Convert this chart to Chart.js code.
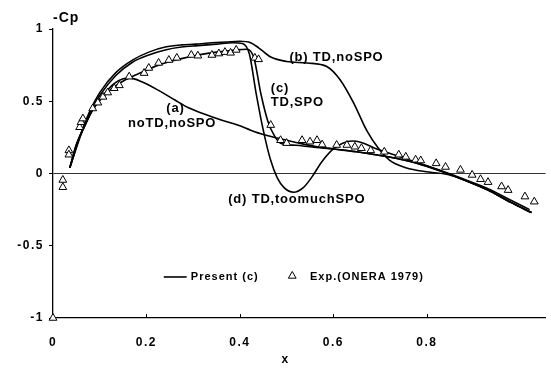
<!DOCTYPE html>
<html>
<head>
<meta charset="utf-8">
<script src="https://cdn.jsdelivr.net/npm/chart.js@4/dist/chart.umd.min.js"></script>
<style>
  html, body { margin: 0; padding: 0; background: #fff; }
  #wrap { width: 551px; height: 368px; }
</style>
</head>
<body>
<div id="wrap"><canvas id="graficaCp" width="551" height="368"></canvas></div>
<script>
// TICKS
const xTicks = [0, 0.2, 0.4, 0.6, 0.8];
const yTicks = [-1, -0.5, 0, 0.5, 1];

// EXPERIMENTO (ONERA 1979)
const expX = [0, 0.021, 0.021, 0.034, 0.034, 0.057, 0.06, 0.064, 0.085, 0.096, 0.107, 0.117, 0.131, 0.142,
  0.163, 0.195, 0.205, 0.226, 0.248, 0.265, 0.296, 0.31, 0.34, 0.355, 0.368, 0.38, 0.392, 0.432, 0.44,
  0.466, 0.487, 0.5, 0.533, 0.55, 0.565, 0.576, 0.607, 0.629, 0.646, 0.66, 0.68, 0.709, 0.74, 0.755,
  0.776, 0.787, 0.82, 0.84, 0.872, 0.897, 0.915, 0.931, 0.96, 0.974, 1.01, 1.03];
const expY = [-1, -0.045, -0.095, 0.16, 0.13, 0.32, 0.355, 0.38, 0.45, 0.49, 0.53, 0.56, 0.59, 0.61,
  0.67, 0.695, 0.73, 0.765, 0.785, 0.8, 0.82, 0.815, 0.82, 0.83, 0.84, 0.835, 0.855, 0.8, 0.79,
  0.335, 0.23, 0.21, 0.23, 0.22, 0.23, 0.2, 0.197, 0.197, 0.185, 0.175, 0.16, 0.15, 0.13, 0.115,
  0.095, 0.09, 0.07, 0.045, 0.025, -0.01, -0.04, -0.06, -0.09, -0.115, -0.16, -0.195];

// (a) noTD,noSPO
const curveA = [[0.036, 0.04], [0.05, 0.2], [0.068, 0.33], [0.085, 0.44], [0.107, 0.54], [0.13, 0.62],
  [0.15, 0.655], [0.165, 0.66], [0.19, 0.635], [0.226, 0.575], [0.26, 0.51], [0.29, 0.455], [0.325, 0.41],
  [0.36, 0.37], [0.395, 0.335], [0.423, 0.3], [0.45, 0.27], [0.48, 0.245], [0.52, 0.215], [0.565, 0.185],
  [0.6, 0.17], [0.65, 0.15], [0.7, 0.125], [0.734, 0.105], [0.78, 0.07], [0.834, 0.012], [0.88, -0.045],
  [0.931, -0.114], [0.98, -0.2], [1.024, -0.27]];

// (b) TD,noSPO
const curveB = [[0.036, 0.04], [0.06, 0.28], [0.08, 0.44], [0.1, 0.56], [0.135, 0.7], [0.17, 0.785],
  [0.205, 0.84], [0.24, 0.875], [0.275, 0.89], [0.305, 0.895], [0.34, 0.905], [0.37, 0.91], [0.4, 0.915],
  [0.423, 0.905], [0.44, 0.87], [0.466, 0.806], [0.5, 0.775], [0.544, 0.765], [0.586, 0.74], [0.614, 0.65],
  [0.643, 0.49], [0.671, 0.3], [0.696, 0.176], [0.72, 0.093], [0.755, 0.04], [0.804, 0.01], [0.847, -0.008],
  [0.88, -0.045], [0.931, -0.114], [0.98, -0.2], [1.024, -0.27]];

// (c) TD,SPO
const curveC = [[0.036, 0.04], [0.05, 0.2], [0.068, 0.33], [0.085, 0.44], [0.107, 0.53], [0.127, 0.59],
  [0.156, 0.65], [0.19, 0.7], [0.226, 0.75], [0.275, 0.795], [0.31, 0.82], [0.35, 0.84], [0.39, 0.855],
  [0.415, 0.86], [0.43, 0.8], [0.445, 0.55], [0.46, 0.36], [0.474, 0.26], [0.487, 0.21], [0.52, 0.195],
  [0.55, 0.185], [0.6, 0.17], [0.65, 0.15], [0.7, 0.125], [0.734, 0.105], [0.78, 0.07], [0.834, 0.012],
  [0.88, -0.045], [0.931, -0.114], [0.98, -0.2], [1.024, -0.27]];

// (d) TD,toomuchSPO
const curveD = [[0.036, 0.04], [0.06, 0.27], [0.08, 0.43], [0.1, 0.54], [0.135, 0.68], [0.17, 0.77],
  [0.205, 0.82], [0.24, 0.855], [0.275, 0.875], [0.31, 0.885], [0.35, 0.895], [0.385, 0.905], [0.405, 0.9],
  [0.42, 0.83], [0.435, 0.55], [0.45, 0.3], [0.465, 0.1], [0.48, -0.03], [0.495, -0.1], [0.515, -0.13],
  [0.535, -0.1], [0.555, -0.02], [0.575, 0.08], [0.6, 0.17], [0.62, 0.21], [0.64, 0.225], [0.66, 0.215],
  [0.685, 0.18], [0.72, 0.14], [0.78, 0.075], [0.834, 0.015], [0.88, -0.04], [0.931, -0.105], [0.98, -0.185],
  [1.02, -0.25]];

const FONT = '"Liberation Sans", Arial, Helvetica, sans-serif';

// ETIQUETAS DENTRO DEL GRAFICO (posicion en coordenadas de datos)
const etiquetas = [
  { text: '(a)', x: 0.262, y: 0.45, align: 'center' },
  { text: 'noTD,noSPO', x: 0.255, y: 0.35, align: 'center' },
  { text: '(b) TD,noSPO', x: 0.506, y: 0.8, align: 'left' },
  { text: '(c)', x: 0.466, y: 0.59, align: 'left' },
  { text: 'TD,SPO', x: 0.466, y: 0.495, align: 'left' },
  { text: '(d) TD,toomuchSPO', x: 0.375, y: -0.18, align: 'left' },
];

const toPoints = (pairs) => pairs.map(([x, y]) => ({ x, y }));

const lineDataset = (label, pairs) => ({
  label,
  data: toPoints(pairs),
  showLine: true,
  borderColor: '#000',
  borderWidth: 1.6,
  pointRadius: 0,
  cubicInterpolationMode: 'monotone',
  fill: false,
});

// PLUGIN QUE DIBUJA TEXTOS, MARCAS Y LEYENDA
const textosPlugin = {
  id: 'textos',
  beforeDraw(chart) {
    chart.ctx.letterSpacing = '1.5px';
  },
  afterDatasetsDraw(chart) {
    const { ctx, chartArea, scales: { x, y } } = chart;
    ctx.save();
    ctx.strokeStyle = '#000';
    ctx.fillStyle = '#000';
    ctx.lineWidth = 1;

    // marcas del eje x hacia adentro
    xTicks.slice(1).forEach((v) => {
      const px = Math.round(x.getPixelForValue(v)) + 0.5;
      ctx.beginPath();
      ctx.moveTo(px, chartArea.bottom);
      ctx.lineTo(px, chartArea.bottom - 4);
      ctx.stroke();
    });

    ctx.textBaseline = 'middle';
    ctx.letterSpacing = '0.8px';
    ctx.font = `bold 13px ${FONT}`;
    etiquetas.forEach((e) => {
      ctx.textAlign = e.align;
      ctx.fillText(e.text, x.getPixelForValue(e.x), y.getPixelForValue(e.y));
    });

    // titulos de ejes
    ctx.letterSpacing = '1px';
    ctx.font = `bold 14px ${FONT}`;
    ctx.textAlign = 'left';
    ctx.fillText('-Cp', chartArea.left, chartArea.top - 11);
    ctx.font = `bold 12px ${FONT}`;
    ctx.textAlign = 'center';
    ctx.fillText('x', x.getPixelForValue(0.497), 360);

    // leyenda
    const ly = y.getPixelForValue(-0.716);
    ctx.lineWidth = 1.6;
    ctx.beginPath();
    ctx.moveTo(x.getPixelForValue(0.237), ly);
    ctx.lineTo(x.getPixelForValue(0.286), ly);
    ctx.stroke();
    ctx.font = `bold 11px ${FONT}`;
    ctx.textAlign = 'left';
    ctx.fillText('Present (c)', x.getPixelForValue(0.295), ly);
    ctx.fillText('Exp.(ONERA 1979)', x.getPixelForValue(0.55), ly);
    ctx.fillStyle = '#fff';
    ctx.lineWidth = 1;
    Chart.helpers.drawPoint(ctx, { pointStyle: 'triangle', radius: 4.5, borderWidth: 1 }, x.getPixelForValue(0.512), ly - 1);
    ctx.restore();
  },
};

Chart.defaults.font.family = FONT;
Chart.defaults.font.weight = 'bold';
Chart.defaults.font.size = 12;
Chart.defaults.color = '#000';

const config = {
  type: 'scatter',
  data: {
    datasets: [
      {
        label: 'Exp.(ONERA 1979)',
        data: expX.map((x, i) => ({ x, y: expY[i] })),
        pointStyle: 'triangle',
        pointRadius: 4.5,
        borderColor: '#000',
        backgroundColor: '#fff',
        borderWidth: 1,
        clip: false,
      },
      lineDataset('(a) noTD,noSPO', curveA),
      lineDataset('(b) TD,noSPO', curveB),
      lineDataset('(c) TD,SPO', curveC),
      lineDataset('(d) TD,toomuchSPO', curveD),
    ],
  },
  options: {
    responsive: false,
    animation: false,
    devicePixelRatio: 1,
    layout: { padding: { top: 29, right: 0, left: 0, bottom: 0 } },
    plugins: { legend: { display: false }, tooltip: { enabled: false } },
    scales: {
      x: {
        type: 'linear',
        min: 0,
        max: 1.054,
        afterBuildTicks: (scale) => { scale.ticks = xTicks.map((value) => ({ value })); },
        afterFit: (scale) => { scale.height = 50; },
        ticks: { padding: 17, maxRotation: 0, callback: (v) => String(v) },
        grid: { display: true, drawOnChartArea: false, drawTicks: false },
        border: { display: true, color: '#000', width: 1.3 },
      },
      y: {
        type: 'linear',
        min: -1,
        max: 1,
        afterBuildTicks: (scale) => { scale.ticks = yTicks.map((value) => ({ value })); },
        afterFit: (scale) => { scale.width = 53; },
        ticks: { padding: 5, callback: (v) => String(v) },
        grid: {
          drawOnChartArea: true,
          drawTicks: true,
          tickLength: 4,
          tickColor: '#000',
          color: (ctx) => (ctx.tick && ctx.tick.value === 0 ? '#333' : 'rgba(0,0,0,0)'),
          lineWidth: 1,
        },
        border: { display: true, color: '#000', width: 1.3 },
      },
    },
  },
  plugins: [textosPlugin],
};

new Chart(document.getElementById('graficaCp'), config);
</script>
</body>
</html>
